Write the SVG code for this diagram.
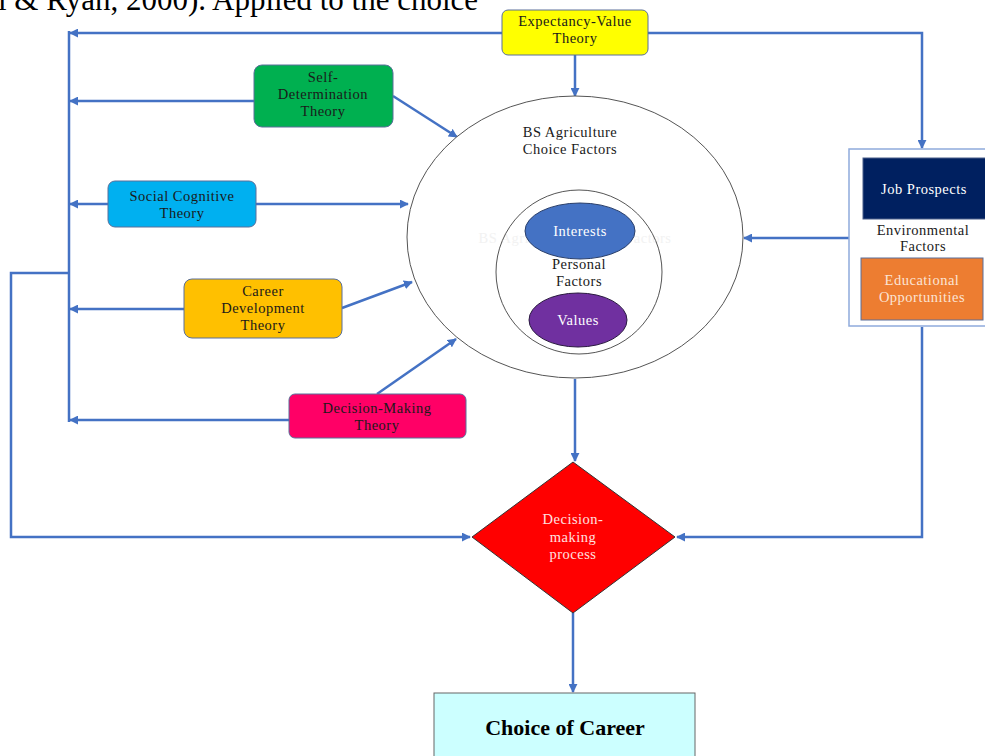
<svg xmlns="http://www.w3.org/2000/svg" width="985" height="756" viewBox="0 0 985 756">
<defs>
<marker id="ah" viewBox="0 0 10 10" refX="9" refY="5" markerWidth="9" markerHeight="9" markerUnits="userSpaceOnUse" orient="auto">
<path d="M0,0 L10,5 L0,10 z" fill="#4472C4"/>
</marker>
<style>
.t{font-family:"Liberation Serif","Times New Roman",serif;font-size:14.5px;text-anchor:middle;letter-spacing:0.5px;fill:#1a1a1a}
.w{fill:#ffffff}
.c{fill:none;stroke:#4472C4;stroke-width:2.5}
.a{marker-end:url(#ah)}
.box{stroke:#5a6f9a;stroke-width:1}
</style>
</defs>
<rect width="985" height="756" fill="#ffffff"/>
<text x="-2" y="10" font-family="Liberation Serif, serif" font-size="31" fill="#000">l &amp; Ryan, 2000). Applied to the choice</text>

<g id="connectors">
<path class="c a" d="M502,33 H70"/>
<path class="c" d="M69,31 V422"/>
<path class="c a" d="M648,33 H922 V148"/>
<path class="c a" d="M575,55 V96"/>
<path class="c a" d="M254,101 H70"/>
<path class="c a" d="M393,96 L457,137"/>
<path class="c a" d="M108,204 H70"/>
<path class="c a" d="M256,204 H408"/>
<path class="c a" d="M184,309 H70"/>
<path class="c a" d="M342,308 L412,282"/>
<path class="c a" d="M289,420 H70"/>
<path class="c a" d="M377,394 L456,339"/>
<path class="c a" d="M69,273 H11 V537 H470"/>
<path class="c a" d="M849,238 H744"/>
<path class="c a" d="M922,327 V537 H677"/>
<path class="c a" d="M575,379 V461"/>
<path class="c a" d="M573,613 V692"/>
</g>

<g id="expectancy-value">
<rect class="box" x="502" y="10" width="146" height="45" rx="6" fill="#FFFF00"/>
<text class="t" x="575" y="26">Expectancy-Value</text>
<text class="t" x="575" y="43">Theory</text>
</g>

<g id="self-determination">
<rect class="box" x="254" y="65" width="139" height="62" rx="8" fill="#00B050"/>
<text class="t" x="323" y="82">Self-</text>
<text class="t" x="323" y="99">Determination</text>
<text class="t" x="323" y="116">Theory</text>
</g>

<g id="social-cognitive">
<rect class="box" x="108" y="181" width="148" height="46" rx="7" fill="#00B0F0"/>
<text class="t" x="182" y="201">Social Cognitive</text>
<text class="t" x="182" y="218">Theory</text>
</g>

<g id="career-development">
<rect class="box" x="184" y="279" width="158" height="59" rx="8" fill="#FFC000"/>
<text class="t" x="263" y="296">Career</text>
<text class="t" x="263" y="313">Development</text>
<text class="t" x="263" y="330">Theory</text>
</g>

<g id="decision-making-theory">
<rect class="box" x="289" y="394" width="177" height="44" rx="6" fill="#FF0066"/>
<text class="t" x="377" y="413">Decision-Making</text>
<text class="t" x="377" y="430">Theory</text>
</g>

<g id="choice-factors">
<ellipse cx="575" cy="237" rx="168" ry="141" fill="#ffffff" stroke="#555" stroke-width="1"/>
<text class="t" x="570" y="137">BS Agriculture</text>
<text class="t" x="570" y="154">Choice Factors</text>
<text class="t" x="575" y="243" style="fill:#f2f2f2">BS Agriculture Choice Factors</text>
</g>

<g id="personal-factors">
<ellipse cx="579" cy="272" rx="83" ry="82" fill="none" stroke="#555" stroke-width="1"/>
<text class="t" x="579" y="269">Personal</text>
<text class="t" x="579" y="286">Factors</text>
</g>

<g id="interests">
<ellipse cx="580" cy="231" rx="55" ry="28" fill="#4472C4" stroke="#2a3f6a" stroke-width="1"/>
<text class="t w" x="580" y="236">Interests</text>
</g>

<g id="values">
<ellipse cx="578" cy="320" rx="49" ry="27" fill="#7030A0" stroke="#2a1a40" stroke-width="1"/>
<text class="t w" x="578" y="325">Values</text>
</g>

<g id="environmental-factors">
<rect x="849" y="149" width="140" height="177" fill="#ffffff" stroke="#8FAADC" stroke-width="1.5"/>
<text class="t" x="923" y="235">Environmental</text>
<text class="t" x="923" y="251">Factors</text>
</g>

<g id="job-prospects">
<rect x="863" y="158" width="124" height="61" fill="#002060" stroke="#4a5f8a" stroke-width="1"/>
<text class="t w" x="924" y="194">Job Prospects</text>
</g>

<g id="educational-opportunities">
<rect x="861" y="258" width="122" height="62" fill="#ED7D31" stroke="#5a6f9a" stroke-width="1"/>
<text class="t" x="922" y="285" style="fill:#fbe4d5">Educational</text>
<text class="t" x="922" y="302" style="fill:#fbe4d5">Opportunities</text>
</g>

<g id="decision-process">
<path d="M573,462 L675,537 L573,613 L472,537 Z" fill="#FF0000" stroke="#333" stroke-width="1"/>
<text class="t" x="573" y="524" style="fill:#ffe0e0">Decision-</text>
<text class="t" x="573" y="542" style="fill:#ffe0e0">making</text>
<text class="t" x="573" y="559" style="fill:#ffe0e0">process</text>
</g>

<g id="choice-of-career">
<rect x="434" y="693" width="261" height="70" fill="#CCFFFF" stroke="#666" stroke-width="1"/>
<text x="565" y="735" font-family="Liberation Serif, serif" font-size="22" font-weight="bold" text-anchor="middle" fill="#000">Choice of Career</text>
</g>
</svg>
